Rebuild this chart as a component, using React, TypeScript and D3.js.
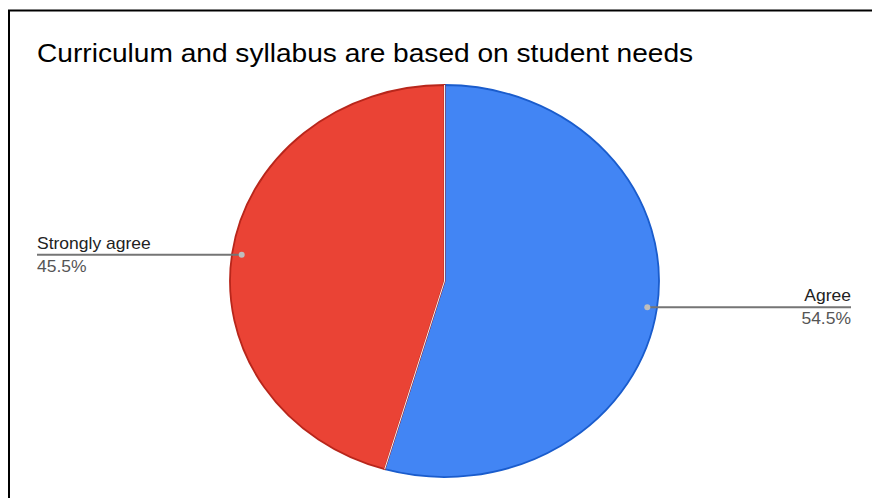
import React from "react";
import * as d3 from "d3";

const title = "Curriculum and syllabus are based on student needs";
const categories = ["Agree", "Strongly agree"];
const values = [54.5, 45.5];
const colors = ["#4285F4", "#EA4335"];
const strokes = ["#1a5ccc", "#b8261b"];

const SX = 1.094;

function T(props: { x: number; y: number; size: number; fill: string; anchor?: string; children: any }) {
  return (
    <text
      transform={`translate(${props.x},${props.y}) scale(${SX},1)`}
      fontSize={props.size}
      fill={props.fill}
      textAnchor={props.anchor || "start"}
    >
      {props.children}
    </text>
  );
}

export default function App() {
  const W = 872, H = 498;
  const cx = 444.5, cy = 281, rx = 214.5, ry = 196;
  const pie = d3.pie<number>().sort(null).value((d) => d)(values);
  const arc = d3.arc<d3.PieArcDatum<number>>().innerRadius(0).outerRadius(ry);
  const sx = rx / ry;
  const labelR = 0.955;
  return (
    <div style={{ position: "absolute", left: 0, top: 0 }}>
      <svg width={W} height={H} style={{ display: "block", fontFamily: "'Liberation Sans', Arial, sans-serif" }}>
        <rect x={0} y={0} width={W} height={H} fill="#fff" />
        <rect x={9} y={10.5} width={W + 20} height={H + 20} fill="none" stroke="#000" strokeWidth={2} />
        <T x={37} y={62} size={25.7} fill="#000">{title}</T>
        <g transform={`translate(${cx},${cy}) scale(${sx},1)`}>
          {pie.map((p, i) => (
            <path key={i} d={arc(p) || ""} fill={colors[i]} stroke={strokes[i]} strokeWidth={1.8} style={{ vectorEffect: "non-scaling-stroke" } as any} />
          ))}
          {pie.map((p, i) => {
            const a = p.startAngle;
            return <line key={"s" + i} x1={0} y1={0} x2={Math.sin(a) * ry} y2={-Math.cos(a) * ry} stroke="#f0f0f0" strokeWidth={1} style={{ vectorEffect: "non-scaling-stroke" } as any} />;
          })}
        </g>
        {pie.map((p, i) => {
          const m = (p.startAngle + p.endAngle) / 2;
          const px = cx + Math.sin(m) * rx * labelR;
          const py = cy - Math.cos(m) * ry * labelR;
          const right = Math.sin(m) > 0;
          const ex = right ? 851 : 37;
          return (
            <g key={"l" + i}>
              <line x1={px} y1={py} x2={ex} y2={py} stroke="#757575" strokeWidth={2} />
              <circle cx={px} cy={py} r={3} fill="#bdbdbd" />
              <T x={ex} y={py - 6} size={16} fill="#222" anchor={right ? "end" : "start"}>{categories[i]}</T>
              <T x={ex} y={py + 17} size={16} fill="#555" anchor={right ? "end" : "start"}>{values[i].toFixed(1)}%</T>
            </g>
          );
        })}
      </svg>
    </div>
  );
}
